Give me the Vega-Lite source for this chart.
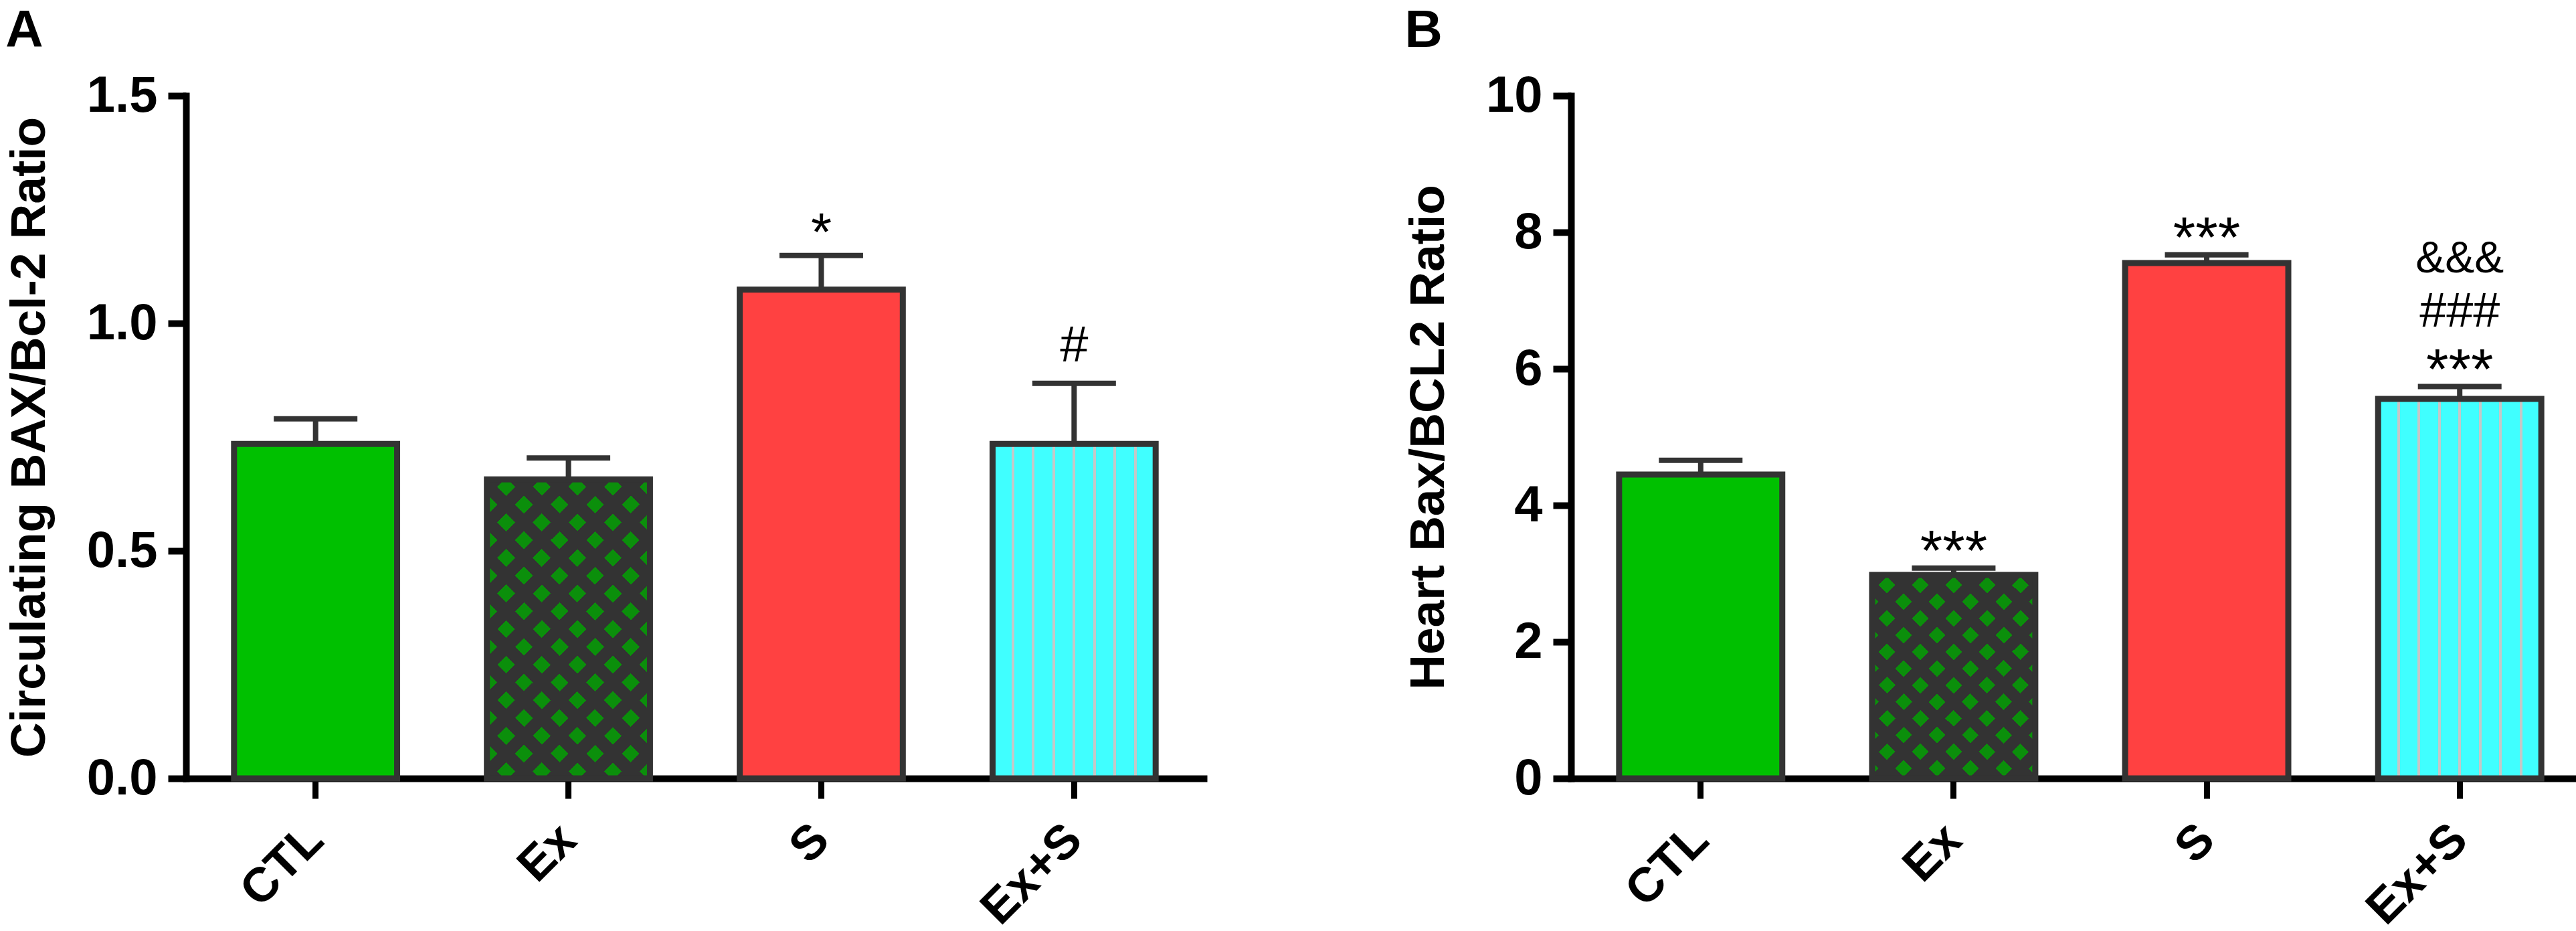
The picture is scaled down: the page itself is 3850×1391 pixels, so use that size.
{
  "$schema": "https://vega.github.io/schema/vega-lite/v6.json",
  "background": "white",
  "padding": {"left": 8, "top": 8, "right": 5, "bottom": 5},
  "spacing": 300,
  "config": {
    "view": {"stroke": null},
    "font": "Liberation Sans",
    "axis": {
      "grid": false,
      "domainColor": "black",
      "domainWidth": 10,
      "domainCap": "square",
      "tickColor": "black",
      "tickWidth": 10,
      "tickSize": 27,
      "labelFont": "Liberation Sans",
      "labelFontWeight": "bold",
      "labelFontSize": 76,
      "labelColor": "black",
      "labelPadding": 16,
      "titleFont": "Liberation Sans",
      "titleFontWeight": "bold",
      "titleFontSize": 73,
      "titleColor": "black",
      "titlePadding": 48
    },
    "axisX": {
      "labelAngle": -45,
      "labelAlign": "right",
      "labelBaseline": "middle",
      "labelFontSize": 72,
      "tickSize": 30,
      "tickWidth": 9,
      "labelPadding": 50
    },
    "title": {
      "font": "Liberation Sans",
      "fontSize": 78,
      "fontWeight": "bold",
      "color": "black",
      "anchor": "start",
      "frame": "bounds",
      "baseline": "bottom",
      "offset": 19
    }
  },
  "datasets": {
    "circulating": [
      {"g": "CTL", "v": 0.735, "e": 0.79},
      {"g": "Ex", "v": 0.657, "e": 0.704},
      {"g": "S", "v": 1.074, "e": 1.149, "star": "*"},
      {"g": "Ex+S", "v": 0.735, "e": 0.868, "hash": "#"}
    ],
    "heart": [
      {"g": "CTL", "v": 4.45, "e": 4.66},
      {"g": "Ex", "v": 2.98, "e": 3.08, "star": "***"},
      {"g": "S", "v": 7.55, "e": 7.67, "star": "***"},
      {"g": "Ex+S", "v": 5.56, "e": 5.74, "star": "***", "hash": "###", "amp": "&&&"}
    ]
  },
  "hconcat": [
    {
      "title": "A",
      "width": 1521,
      "height": 1020,
      "data": {"name": "circulating"},
      "encoding": {
        "x": {
          "field": "g",
          "type": "nominal",
          "scale": {"domain": ["CTL", "Ex", "S", "Ex+S"], "paddingInner": 0.355, "paddingOuter": 0.19},
          "axis": {"title": null}
        },
        "y": {
          "field": "v",
          "type": "quantitative",
          "title": "Circulating BAX/Bcl-2 Ratio",
          "scale": {"domain": [0, 1.5], "nice": false},
          "axis": {"values": [0, 0.5, 1, 1.5], "format": ".1f"}
        }
      },
      "layer": [
        {
          "mark": {"type": "bar"},
          "encoding": {
            "fill": {
              "field": "g",
              "type": "nominal",
              "scale": {"domain": ["CTL", "Ex", "S", "Ex+S"], "range": ["#00c000", "#0b8f0b", "#ff4141", "#40ffff"]},
              "legend": null
            }
          }
        },
        {
          "transform": [{"filter": "datum.g === 'Ex+S'"}],
          "mark": {
            "type": "bar",
            "fill": {
              "gradient": "linear", "x1": 0, "y1": 0, "x2": 1, "y2": 0,
              "stops": [
                {"offset": 0, "color": "#40ffff"}, {"offset": 0.117, "color": "#40ffff"}, {"offset": 0.117, "color": "#c4c8c8"}, {"offset": 0.133, "color": "#c4c8c8"},
                {"offset": 0.133, "color": "#40ffff"}, {"offset": 0.242, "color": "#40ffff"}, {"offset": 0.242, "color": "#c4c8c8"}, {"offset": 0.258, "color": "#c4c8c8"},
                {"offset": 0.258, "color": "#40ffff"}, {"offset": 0.367, "color": "#40ffff"}, {"offset": 0.367, "color": "#c4c8c8"}, {"offset": 0.383, "color": "#c4c8c8"},
                {"offset": 0.383, "color": "#40ffff"}, {"offset": 0.492, "color": "#40ffff"}, {"offset": 0.492, "color": "#c4c8c8"}, {"offset": 0.508, "color": "#c4c8c8"},
                {"offset": 0.508, "color": "#40ffff"}, {"offset": 0.617, "color": "#40ffff"}, {"offset": 0.617, "color": "#c4c8c8"}, {"offset": 0.633, "color": "#c4c8c8"},
                {"offset": 0.633, "color": "#40ffff"}, {"offset": 0.742, "color": "#40ffff"}, {"offset": 0.742, "color": "#c4c8c8"}, {"offset": 0.758, "color": "#c4c8c8"},
                {"offset": 0.758, "color": "#40ffff"}, {"offset": 0.867, "color": "#40ffff"}, {"offset": 0.867, "color": "#c4c8c8"}, {"offset": 0.883, "color": "#c4c8c8"},
                {"offset": 0.883, "color": "#40ffff"}, {"offset": 1, "color": "#40ffff"}
              ]
            }
          }
        },
        {
          "transform": [{"filter": "datum.g === 'Ex'"}],
          "mark": {
            "type": "bar",
            "fill": {
              "gradient": "linear", "x1": 0, "y1": 0, "x2": 1, "y2": 1.834,
              "stops": [
                {"offset": 0, "color": "#333333"}, {"offset": 0.025, "color": "#333333"}, {"offset": 0.025, "color": "rgba(51,51,51,0)"}, {"offset": 0.05, "color": "rgba(51,51,51,0)"},
                {"offset": 0.05, "color": "#333333"}, {"offset": 0.075, "color": "#333333"}, {"offset": 0.075, "color": "rgba(51,51,51,0)"}, {"offset": 0.1, "color": "rgba(51,51,51,0)"},
                {"offset": 0.1, "color": "#333333"}, {"offset": 0.125, "color": "#333333"}, {"offset": 0.125, "color": "rgba(51,51,51,0)"}, {"offset": 0.15, "color": "rgba(51,51,51,0)"},
                {"offset": 0.15, "color": "#333333"}, {"offset": 0.175, "color": "#333333"}, {"offset": 0.175, "color": "rgba(51,51,51,0)"}, {"offset": 0.2, "color": "rgba(51,51,51,0)"},
                {"offset": 0.2, "color": "#333333"}, {"offset": 0.225, "color": "#333333"}, {"offset": 0.225, "color": "rgba(51,51,51,0)"}, {"offset": 0.25, "color": "rgba(51,51,51,0)"},
                {"offset": 0.25, "color": "#333333"}, {"offset": 0.275, "color": "#333333"}, {"offset": 0.275, "color": "rgba(51,51,51,0)"}, {"offset": 0.3, "color": "rgba(51,51,51,0)"},
                {"offset": 0.3, "color": "#333333"}, {"offset": 0.325, "color": "#333333"}, {"offset": 0.325, "color": "rgba(51,51,51,0)"}, {"offset": 0.35, "color": "rgba(51,51,51,0)"},
                {"offset": 0.35, "color": "#333333"}, {"offset": 0.375, "color": "#333333"}, {"offset": 0.375, "color": "rgba(51,51,51,0)"}, {"offset": 0.4, "color": "rgba(51,51,51,0)"},
                {"offset": 0.4, "color": "#333333"}, {"offset": 0.425, "color": "#333333"}, {"offset": 0.425, "color": "rgba(51,51,51,0)"}, {"offset": 0.45, "color": "rgba(51,51,51,0)"},
                {"offset": 0.45, "color": "#333333"}, {"offset": 0.475, "color": "#333333"}, {"offset": 0.475, "color": "rgba(51,51,51,0)"}, {"offset": 0.5, "color": "rgba(51,51,51,0)"},
                {"offset": 0.5, "color": "#333333"}, {"offset": 0.525, "color": "#333333"}, {"offset": 0.525, "color": "rgba(51,51,51,0)"}, {"offset": 0.55, "color": "rgba(51,51,51,0)"},
                {"offset": 0.55, "color": "#333333"}, {"offset": 0.575, "color": "#333333"}, {"offset": 0.575, "color": "rgba(51,51,51,0)"}, {"offset": 0.6, "color": "rgba(51,51,51,0)"},
                {"offset": 0.6, "color": "#333333"}, {"offset": 0.625, "color": "#333333"}, {"offset": 0.625, "color": "rgba(51,51,51,0)"}, {"offset": 0.65, "color": "rgba(51,51,51,0)"},
                {"offset": 0.65, "color": "#333333"}, {"offset": 0.675, "color": "#333333"}, {"offset": 0.675, "color": "rgba(51,51,51,0)"}, {"offset": 0.7, "color": "rgba(51,51,51,0)"},
                {"offset": 0.7, "color": "#333333"}, {"offset": 0.725, "color": "#333333"}, {"offset": 0.725, "color": "rgba(51,51,51,0)"}, {"offset": 0.75, "color": "rgba(51,51,51,0)"},
                {"offset": 0.75, "color": "#333333"}, {"offset": 0.775, "color": "#333333"}, {"offset": 0.775, "color": "rgba(51,51,51,0)"}, {"offset": 0.8, "color": "rgba(51,51,51,0)"},
                {"offset": 0.8, "color": "#333333"}, {"offset": 0.825, "color": "#333333"}, {"offset": 0.825, "color": "rgba(51,51,51,0)"}, {"offset": 0.85, "color": "rgba(51,51,51,0)"},
                {"offset": 0.85, "color": "#333333"}, {"offset": 0.875, "color": "#333333"}, {"offset": 0.875, "color": "rgba(51,51,51,0)"}, {"offset": 0.9, "color": "rgba(51,51,51,0)"},
                {"offset": 0.9, "color": "#333333"}, {"offset": 0.925, "color": "#333333"}, {"offset": 0.925, "color": "rgba(51,51,51,0)"}, {"offset": 0.95, "color": "rgba(51,51,51,0)"},
                {"offset": 0.95, "color": "#333333"}, {"offset": 0.975, "color": "#333333"}, {"offset": 0.975, "color": "rgba(51,51,51,0)"}, {"offset": 1, "color": "rgba(51,51,51,0)"}
              ]
            }
          }
        },
        {
          "transform": [{"filter": "datum.g === 'Ex'"}],
          "mark": {
            "type": "bar",
            "fill": {
              "gradient": "linear", "x1": 0, "y1": 1.834, "x2": 1, "y2": 0,
              "stops": [
                {"offset": 0, "color": "#333333"}, {"offset": 0.025, "color": "#333333"}, {"offset": 0.025, "color": "rgba(51,51,51,0)"}, {"offset": 0.05, "color": "rgba(51,51,51,0)"},
                {"offset": 0.05, "color": "#333333"}, {"offset": 0.075, "color": "#333333"}, {"offset": 0.075, "color": "rgba(51,51,51,0)"}, {"offset": 0.1, "color": "rgba(51,51,51,0)"},
                {"offset": 0.1, "color": "#333333"}, {"offset": 0.125, "color": "#333333"}, {"offset": 0.125, "color": "rgba(51,51,51,0)"}, {"offset": 0.15, "color": "rgba(51,51,51,0)"},
                {"offset": 0.15, "color": "#333333"}, {"offset": 0.175, "color": "#333333"}, {"offset": 0.175, "color": "rgba(51,51,51,0)"}, {"offset": 0.2, "color": "rgba(51,51,51,0)"},
                {"offset": 0.2, "color": "#333333"}, {"offset": 0.225, "color": "#333333"}, {"offset": 0.225, "color": "rgba(51,51,51,0)"}, {"offset": 0.25, "color": "rgba(51,51,51,0)"},
                {"offset": 0.25, "color": "#333333"}, {"offset": 0.275, "color": "#333333"}, {"offset": 0.275, "color": "rgba(51,51,51,0)"}, {"offset": 0.3, "color": "rgba(51,51,51,0)"},
                {"offset": 0.3, "color": "#333333"}, {"offset": 0.325, "color": "#333333"}, {"offset": 0.325, "color": "rgba(51,51,51,0)"}, {"offset": 0.35, "color": "rgba(51,51,51,0)"},
                {"offset": 0.35, "color": "#333333"}, {"offset": 0.375, "color": "#333333"}, {"offset": 0.375, "color": "rgba(51,51,51,0)"}, {"offset": 0.4, "color": "rgba(51,51,51,0)"},
                {"offset": 0.4, "color": "#333333"}, {"offset": 0.425, "color": "#333333"}, {"offset": 0.425, "color": "rgba(51,51,51,0)"}, {"offset": 0.45, "color": "rgba(51,51,51,0)"},
                {"offset": 0.45, "color": "#333333"}, {"offset": 0.475, "color": "#333333"}, {"offset": 0.475, "color": "rgba(51,51,51,0)"}, {"offset": 0.5, "color": "rgba(51,51,51,0)"},
                {"offset": 0.5, "color": "#333333"}, {"offset": 0.525, "color": "#333333"}, {"offset": 0.525, "color": "rgba(51,51,51,0)"}, {"offset": 0.55, "color": "rgba(51,51,51,0)"},
                {"offset": 0.55, "color": "#333333"}, {"offset": 0.575, "color": "#333333"}, {"offset": 0.575, "color": "rgba(51,51,51,0)"}, {"offset": 0.6, "color": "rgba(51,51,51,0)"},
                {"offset": 0.6, "color": "#333333"}, {"offset": 0.625, "color": "#333333"}, {"offset": 0.625, "color": "rgba(51,51,51,0)"}, {"offset": 0.65, "color": "rgba(51,51,51,0)"},
                {"offset": 0.65, "color": "#333333"}, {"offset": 0.675, "color": "#333333"}, {"offset": 0.675, "color": "rgba(51,51,51,0)"}, {"offset": 0.7, "color": "rgba(51,51,51,0)"},
                {"offset": 0.7, "color": "#333333"}, {"offset": 0.725, "color": "#333333"}, {"offset": 0.725, "color": "rgba(51,51,51,0)"}, {"offset": 0.75, "color": "rgba(51,51,51,0)"},
                {"offset": 0.75, "color": "#333333"}, {"offset": 0.775, "color": "#333333"}, {"offset": 0.775, "color": "rgba(51,51,51,0)"}, {"offset": 0.8, "color": "rgba(51,51,51,0)"},
                {"offset": 0.8, "color": "#333333"}, {"offset": 0.825, "color": "#333333"}, {"offset": 0.825, "color": "rgba(51,51,51,0)"}, {"offset": 0.85, "color": "rgba(51,51,51,0)"},
                {"offset": 0.85, "color": "#333333"}, {"offset": 0.875, "color": "#333333"}, {"offset": 0.875, "color": "rgba(51,51,51,0)"}, {"offset": 0.9, "color": "rgba(51,51,51,0)"},
                {"offset": 0.9, "color": "#333333"}, {"offset": 0.925, "color": "#333333"}, {"offset": 0.925, "color": "rgba(51,51,51,0)"}, {"offset": 0.95, "color": "rgba(51,51,51,0)"},
                {"offset": 0.95, "color": "#333333"}, {"offset": 0.975, "color": "#333333"}, {"offset": 0.975, "color": "rgba(51,51,51,0)"}, {"offset": 1, "color": "rgba(51,51,51,0)"}
              ]
            }
          }
        },
        {
          "mark": {"type": "bar", "fill": "transparent", "stroke": "#333333", "strokeWidth": 9}
        },
        {
          "mark": {"type": "rule", "color": "#333333", "strokeWidth": 8},
          "encoding": {"y2": {"field": "e"}}
        },
        {
          "mark": {"type": "tick", "color": "#333333", "size": 125, "thickness": 8, "opacity": 1},
          "encoding": {"y": {"field": "e", "type": "quantitative", "title": "Circulating BAX/Bcl-2 Ratio"}}
        },
        {
          "transform": [{"filter": "datum.star"}],
          "mark": {"type": "text", "font": "Liberation Sans", "fontSize": 80, "color": "black", "baseline": "alphabetic", "dy": -8},
          "encoding": {
            "y": {"field": "e", "type": "quantitative", "title": "Circulating BAX/Bcl-2 Ratio"},
            "text": {"field": "star"}
          }
        },
        {
          "transform": [{"filter": "datum.hash"}],
          "mark": {"type": "text", "font": "Liberation Sans", "fontSize": 76, "color": "black", "baseline": "alphabetic", "dy": -33},
          "encoding": {
            "y": {"field": "e", "type": "quantitative", "title": "Circulating BAX/Bcl-2 Ratio"},
            "text": {"field": "hash"}
          }
        }
      ]
    },
    {
      "title": "B",
      "width": 1522,
      "height": 1020,
      "data": {"name": "heart"},
      "encoding": {
        "x": {
          "field": "g",
          "type": "nominal",
          "scale": {"domain": ["CTL", "Ex", "S", "Ex+S"], "paddingInner": 0.355, "paddingOuter": 0.19},
          "axis": {"title": null}
        },
        "y": {
          "field": "v",
          "type": "quantitative",
          "title": "Heart Bax/BCL2 Ratio",
          "scale": {"domain": [0, 10], "nice": false},
          "axis": {"values": [0, 2, 4, 6, 8, 10]}
        }
      },
      "layer": [
        {
          "mark": {"type": "bar"},
          "encoding": {
            "fill": {
              "field": "g",
              "type": "nominal",
              "scale": {"domain": ["CTL", "Ex", "S", "Ex+S"], "range": ["#00c000", "#0b8f0b", "#ff4141", "#40ffff"]},
              "legend": null
            }
          }
        },
        {
          "transform": [{"filter": "datum.g === 'Ex+S'"}],
          "mark": {
            "type": "bar",
            "fill": {
              "gradient": "linear", "x1": 0, "y1": 0, "x2": 1, "y2": 0,
              "stops": [
                {"offset": 0, "color": "#40ffff"}, {"offset": 0.117, "color": "#40ffff"}, {"offset": 0.117, "color": "#c4c8c8"}, {"offset": 0.133, "color": "#c4c8c8"},
                {"offset": 0.133, "color": "#40ffff"}, {"offset": 0.242, "color": "#40ffff"}, {"offset": 0.242, "color": "#c4c8c8"}, {"offset": 0.258, "color": "#c4c8c8"},
                {"offset": 0.258, "color": "#40ffff"}, {"offset": 0.367, "color": "#40ffff"}, {"offset": 0.367, "color": "#c4c8c8"}, {"offset": 0.383, "color": "#c4c8c8"},
                {"offset": 0.383, "color": "#40ffff"}, {"offset": 0.492, "color": "#40ffff"}, {"offset": 0.492, "color": "#c4c8c8"}, {"offset": 0.508, "color": "#c4c8c8"},
                {"offset": 0.508, "color": "#40ffff"}, {"offset": 0.617, "color": "#40ffff"}, {"offset": 0.617, "color": "#c4c8c8"}, {"offset": 0.633, "color": "#c4c8c8"},
                {"offset": 0.633, "color": "#40ffff"}, {"offset": 0.742, "color": "#40ffff"}, {"offset": 0.742, "color": "#c4c8c8"}, {"offset": 0.758, "color": "#c4c8c8"},
                {"offset": 0.758, "color": "#40ffff"}, {"offset": 0.867, "color": "#40ffff"}, {"offset": 0.867, "color": "#c4c8c8"}, {"offset": 0.883, "color": "#c4c8c8"},
                {"offset": 0.883, "color": "#40ffff"}, {"offset": 1, "color": "#40ffff"}
              ]
            }
          }
        },
        {
          "transform": [{"filter": "datum.g === 'Ex'"}],
          "mark": {
            "type": "bar",
            "fill": {
              "gradient": "linear", "x1": 0, "y1": 0, "x2": 1, "y2": 1.247,
              "stops": [
                {"offset": 0, "color": "#333333"}, {"offset": 0.04, "color": "#333333"}, {"offset": 0.04, "color": "rgba(51,51,51,0)"}, {"offset": 0.08, "color": "rgba(51,51,51,0)"},
                {"offset": 0.08, "color": "#333333"}, {"offset": 0.12, "color": "#333333"}, {"offset": 0.12, "color": "rgba(51,51,51,0)"}, {"offset": 0.16, "color": "rgba(51,51,51,0)"},
                {"offset": 0.16, "color": "#333333"}, {"offset": 0.2, "color": "#333333"}, {"offset": 0.2, "color": "rgba(51,51,51,0)"}, {"offset": 0.24, "color": "rgba(51,51,51,0)"},
                {"offset": 0.24, "color": "#333333"}, {"offset": 0.28, "color": "#333333"}, {"offset": 0.28, "color": "rgba(51,51,51,0)"}, {"offset": 0.32, "color": "rgba(51,51,51,0)"},
                {"offset": 0.32, "color": "#333333"}, {"offset": 0.36, "color": "#333333"}, {"offset": 0.36, "color": "rgba(51,51,51,0)"}, {"offset": 0.4, "color": "rgba(51,51,51,0)"},
                {"offset": 0.4, "color": "#333333"}, {"offset": 0.44, "color": "#333333"}, {"offset": 0.44, "color": "rgba(51,51,51,0)"}, {"offset": 0.48, "color": "rgba(51,51,51,0)"},
                {"offset": 0.48, "color": "#333333"}, {"offset": 0.52, "color": "#333333"}, {"offset": 0.52, "color": "rgba(51,51,51,0)"}, {"offset": 0.56, "color": "rgba(51,51,51,0)"},
                {"offset": 0.56, "color": "#333333"}, {"offset": 0.6, "color": "#333333"}, {"offset": 0.6, "color": "rgba(51,51,51,0)"}, {"offset": 0.64, "color": "rgba(51,51,51,0)"},
                {"offset": 0.64, "color": "#333333"}, {"offset": 0.68, "color": "#333333"}, {"offset": 0.68, "color": "rgba(51,51,51,0)"}, {"offset": 0.72, "color": "rgba(51,51,51,0)"},
                {"offset": 0.72, "color": "#333333"}, {"offset": 0.76, "color": "#333333"}, {"offset": 0.76, "color": "rgba(51,51,51,0)"}, {"offset": 0.8, "color": "rgba(51,51,51,0)"},
                {"offset": 0.8, "color": "#333333"}, {"offset": 0.84, "color": "#333333"}, {"offset": 0.84, "color": "rgba(51,51,51,0)"}, {"offset": 0.88, "color": "rgba(51,51,51,0)"},
                {"offset": 0.88, "color": "#333333"}, {"offset": 0.92, "color": "#333333"}, {"offset": 0.92, "color": "rgba(51,51,51,0)"}, {"offset": 0.96, "color": "rgba(51,51,51,0)"},
                {"offset": 0.96, "color": "#333333"}, {"offset": 1, "color": "#333333"}
              ]
            }
          }
        },
        {
          "transform": [{"filter": "datum.g === 'Ex'"}],
          "mark": {
            "type": "bar",
            "fill": {
              "gradient": "linear", "x1": 0, "y1": 1.247, "x2": 1, "y2": 0,
              "stops": [
                {"offset": 0, "color": "#333333"}, {"offset": 0.04, "color": "#333333"}, {"offset": 0.04, "color": "rgba(51,51,51,0)"}, {"offset": 0.08, "color": "rgba(51,51,51,0)"},
                {"offset": 0.08, "color": "#333333"}, {"offset": 0.12, "color": "#333333"}, {"offset": 0.12, "color": "rgba(51,51,51,0)"}, {"offset": 0.16, "color": "rgba(51,51,51,0)"},
                {"offset": 0.16, "color": "#333333"}, {"offset": 0.2, "color": "#333333"}, {"offset": 0.2, "color": "rgba(51,51,51,0)"}, {"offset": 0.24, "color": "rgba(51,51,51,0)"},
                {"offset": 0.24, "color": "#333333"}, {"offset": 0.28, "color": "#333333"}, {"offset": 0.28, "color": "rgba(51,51,51,0)"}, {"offset": 0.32, "color": "rgba(51,51,51,0)"},
                {"offset": 0.32, "color": "#333333"}, {"offset": 0.36, "color": "#333333"}, {"offset": 0.36, "color": "rgba(51,51,51,0)"}, {"offset": 0.4, "color": "rgba(51,51,51,0)"},
                {"offset": 0.4, "color": "#333333"}, {"offset": 0.44, "color": "#333333"}, {"offset": 0.44, "color": "rgba(51,51,51,0)"}, {"offset": 0.48, "color": "rgba(51,51,51,0)"},
                {"offset": 0.48, "color": "#333333"}, {"offset": 0.52, "color": "#333333"}, {"offset": 0.52, "color": "rgba(51,51,51,0)"}, {"offset": 0.56, "color": "rgba(51,51,51,0)"},
                {"offset": 0.56, "color": "#333333"}, {"offset": 0.6, "color": "#333333"}, {"offset": 0.6, "color": "rgba(51,51,51,0)"}, {"offset": 0.64, "color": "rgba(51,51,51,0)"},
                {"offset": 0.64, "color": "#333333"}, {"offset": 0.68, "color": "#333333"}, {"offset": 0.68, "color": "rgba(51,51,51,0)"}, {"offset": 0.72, "color": "rgba(51,51,51,0)"},
                {"offset": 0.72, "color": "#333333"}, {"offset": 0.76, "color": "#333333"}, {"offset": 0.76, "color": "rgba(51,51,51,0)"}, {"offset": 0.8, "color": "rgba(51,51,51,0)"},
                {"offset": 0.8, "color": "#333333"}, {"offset": 0.84, "color": "#333333"}, {"offset": 0.84, "color": "rgba(51,51,51,0)"}, {"offset": 0.88, "color": "rgba(51,51,51,0)"},
                {"offset": 0.88, "color": "#333333"}, {"offset": 0.92, "color": "#333333"}, {"offset": 0.92, "color": "rgba(51,51,51,0)"}, {"offset": 0.96, "color": "rgba(51,51,51,0)"},
                {"offset": 0.96, "color": "#333333"}, {"offset": 1, "color": "#333333"}
              ]
            }
          }
        },
        {
          "mark": {"type": "bar", "fill": "transparent", "stroke": "#333333", "strokeWidth": 9}
        },
        {
          "mark": {"type": "rule", "color": "#333333", "strokeWidth": 8},
          "encoding": {"y2": {"field": "e"}}
        },
        {
          "mark": {"type": "tick", "color": "#333333", "size": 125, "thickness": 8, "opacity": 1},
          "encoding": {"y": {"field": "e", "type": "quantitative", "title": "Heart Bax/BCL2 Ratio"}}
        },
        {
          "transform": [{"filter": "datum.star"}],
          "mark": {"type": "text", "font": "Liberation Sans", "fontSize": 86, "color": "black", "baseline": "alphabetic", "dy": 3},
          "encoding": {
            "y": {"field": "e", "type": "quantitative", "title": "Heart Bax/BCL2 Ratio"},
            "text": {"field": "star"}
          }
        },
        {
          "transform": [{"filter": "datum.hash"}],
          "mark": {"type": "text", "font": "Liberation Sans", "fontSize": 72, "color": "black", "baseline": "alphabetic", "dy": -90},
          "encoding": {
            "y": {"field": "e", "type": "quantitative", "title": "Heart Bax/BCL2 Ratio"},
            "text": {"field": "hash"}
          }
        },
        {
          "transform": [{"filter": "datum.amp"}],
          "mark": {"type": "text", "font": "Liberation Sans", "fontSize": 66, "color": "black", "baseline": "alphabetic", "dy": -171},
          "encoding": {
            "y": {"field": "e", "type": "quantitative", "title": "Heart Bax/BCL2 Ratio"},
            "text": {"field": "amp"}
          }
        }
      ]
    }
  ]
}
